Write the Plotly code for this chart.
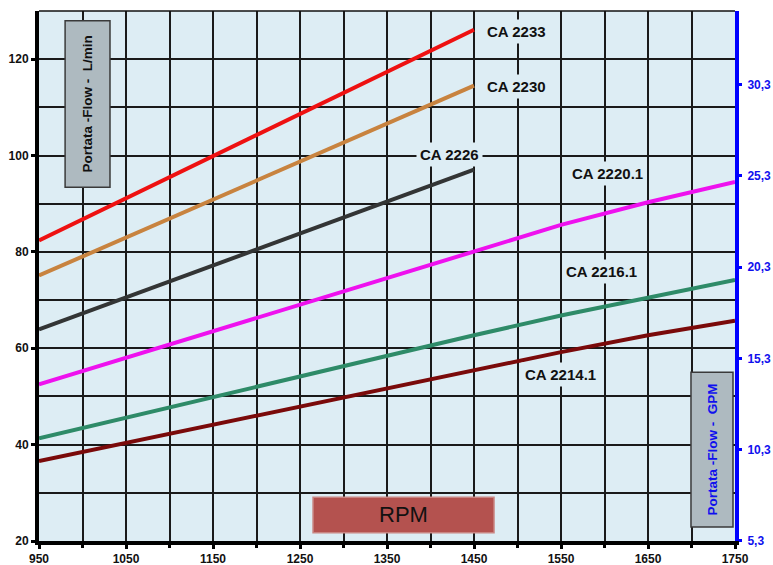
import plotly.graph_objects as go

# ---- data ----
rpm_a = [950, 1450]
ca2233 = [82.4, 126.1]
ca2230 = [75.1, 114.5]
ca2226 = [63.9, 97.1]

rpm_b = [950, 1150, 1350, 1450, 1550, 1650, 1750]
ca2220_1 = [52.5, 63.5, 74.6, 80.1, 85.6, 90.3, 94.5]

rpm_c = [950, 1150, 1350, 1450, 1550, 1650, 1750]
ca2216_1 = [41.3, 49.9, 58.5, 62.7, 66.8, 70.4, 74.2]
ca2214_1 = [36.6, 44.2, 51.8, 55.4, 59.2, 62.7, 65.7]

rpm_ticks = [950, 1050, 1150, 1250, 1350, 1450, 1550, 1650, 1750]
lmin_ticks = [20, 40, 60, 80, 100, 120]
gpm_ticks = [5.3, 10.3, 15.3, 20.3, 25.3, 30.3]
gpm_labels = ["5,3", "10,3", "15,3", "20,3", "25,3", "30,3"]
L_PER_GAL = 3.785

series = [
    ("CA 2233", rpm_a, ca2233, "#EE1111"),
    ("CA 2230", rpm_a, ca2230, "#C8833F"),
    ("CA 2226", rpm_a, ca2226, "#333535"),
    ("CA 2220.1", rpm_b, ca2220_1, "#EE11EE"),
    ("CA 2216.1", rpm_c, ca2216_1, "#2E8B68"),
    ("CA 2214.1", rpm_c, ca2214_1, "#7A0A0A"),
]
label_pos = {
    "CA 2233": (1499, 125.7),
    "CA 2230": (1499, 114.3),
    "CA 2226": (1422, 100.2),
    "CA 2220.1": (1603, 96.3),
    "CA 2216.1": (1597, 76.0),
    "CA 2214.1": (1549, 54.6),
}

BG = "#DDEDF4"
fig = go.Figure()
for name, xs, ys, col in series:
    fig.add_trace(go.Scatter(x=xs, y=ys, mode="lines", name=name,
                             line=dict(color=col, width=4), hoverinfo="skip"))
# invisible trace on secondary axis (GPM)
fig.add_trace(go.Scatter(x=rpm_c, y=[v / L_PER_GAL for v in ca2216_1], yaxis="y2",
                         mode="lines", line=dict(width=0), opacity=0,
                         showlegend=False, hoverinfo="skip"))

for name, (lx, ly) in label_pos.items():
    fig.add_annotation(x=lx, y=ly, text="<b>%s</b>" % name, showarrow=False,
                       font=dict(family="Liberation Sans, Arial", size=15, color="#111"),
                       bgcolor=BG, borderpad=3)

# axis title boxes
fig.add_shape(type="rect", xref="x", yref="y", x0=980, x1=1031.6, y0=93.4, y1=128,
              fillcolor="#AEBAC0", line=dict(color="#3A3A3A", width=1.5), layer="above")
fig.add_annotation(x=1005.8, y=110.7, text="<b>Portata -Flow -  L/min</b>", textangle=-90,
                   showarrow=False, font=dict(family="Liberation Sans, Arial", size=13.5, color="#111"))
fig.add_shape(type="rect", xref="x", yref="y", x0=1699.4, x1=1747.7, y0=22.9, y1=55.0,
              fillcolor="#AEBAC0", line=dict(color="#3A3A3A", width=1.5), layer="above")
fig.add_annotation(x=1723.5, y=39.0, text="<b>Portata -Flow -  GPM</b>", textangle=-90,
                   showarrow=False, font=dict(family="Liberation Sans, Arial", size=13.5, color="#1010EE"))
fig.add_shape(type="rect", xref="x", yref="y", x0=1265, x1=1473, y0=21.7, y1=29.1,
              fillcolor="#B4524F", line=dict(color="#C98582", width=1.5), layer="above")
fig.add_annotation(x=1369, y=25.4, text="RPM", showarrow=False,
                   font=dict(family="Liberation Sans, Arial", size=22, color="#111"))
# thin top border
fig.add_shape(type="line", xref="paper", yref="paper", x0=0, x1=1, y0=1, y1=1,
              line=dict(color="#111", width=1.5))

tickfont = dict(family="Liberation Sans, Arial", size=12, color="#111")
fig.update_layout(
    width=773, height=565,
    margin=dict(l=39, r=38, t=11, b=24, autoexpand=False),
    paper_bgcolor="white", plot_bgcolor=BG,
    showlegend=False,
    xaxis=dict(range=[950, 1750], tickvals=rpm_ticks, ticktext=["<b>%d</b>" % v for v in rpm_ticks],
               tickfont=tickfont, showgrid=True, gridcolor="#1A1A1A", gridwidth=1.5,
               showline=True, linecolor="#000", linewidth=4, automargin=False,
               ticks="outside", ticklen=4, tickwidth=3, tickcolor="#000",
               minor=dict(dtick=50, tick0=950, showgrid=True, gridcolor="#1A1A1A", gridwidth=1.5,
                          ticks="outside", ticklen=3, tickwidth=3, tickcolor="#000"),
               zeroline=False, fixedrange=True),
    yaxis=dict(range=[20, 130], tickvals=lmin_ticks, ticktext=["<b>%d</b>" % v for v in lmin_ticks],
               tickfont=tickfont, showgrid=True, gridcolor="#1A1A1A", gridwidth=1.5,
               showline=True, linecolor="#000", linewidth=4, automargin=False,
               ticks="outside", ticklen=4, tickwidth=3, tickcolor="#000",
               minor=dict(dtick=10, tick0=20, showgrid=True, gridcolor="#1A1A1A", gridwidth=1.5),
               zeroline=False, fixedrange=True),
    yaxis2=dict(range=[20 / L_PER_GAL, 130 / L_PER_GAL], overlaying="y", side="right",
                tickvals=gpm_ticks, ticktext=["<b>%s</b>" % s for s in gpm_labels],
                tickfont=dict(family="Liberation Sans, Arial", size=12, color="#1010EE"),
                showgrid=False, showline=True, linecolor="#0000FF", linewidth=4, automargin=False,
                ticks="outside", ticklen=3, tickwidth=3, tickcolor="#0000FF",
                ticklabelstandoff=3,
                zeroline=False, fixedrange=True),
)

fig.write_html("out.html",
               config={"displayModeBar": False},
               post_script="document.documentElement.style.overflow='hidden';"
                           "document.body.style.overflow='hidden';"
                           "document.body.style.margin='0';")
